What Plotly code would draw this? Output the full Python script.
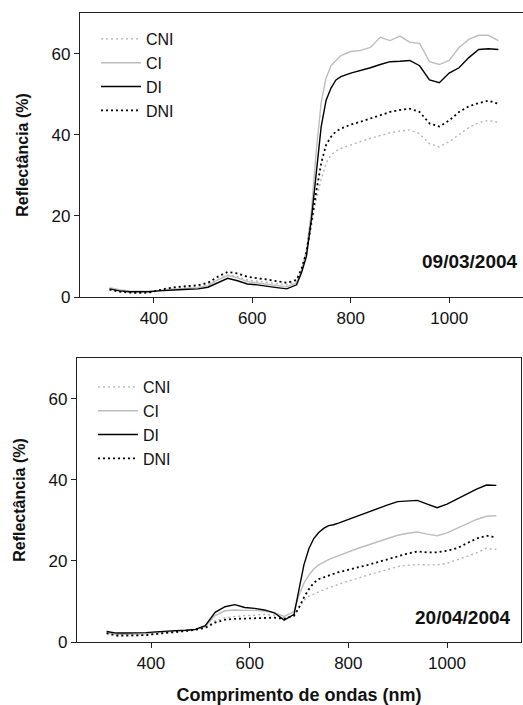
import plotly.graph_objects as go

# Wavelength grid (nm)
wavelength = [310, 330, 350, 370, 390, 410, 430, 450, 470, 490, 510, 530, 550, 570, 590,
              610, 630, 650, 670, 690, 700, 710, 720, 730, 740, 750, 760, 770, 780,
              800, 820, 840, 860, 880, 900, 920, 940, 960, 980, 1000, 1020, 1040, 1060, 1080, 1100]

# Panel 1: 09/03/2004
cni_1 = [2.0, 1.5, 1.2, 1.1, 1.2, 1.6, 2.0, 2.2, 2.4, 2.6, 3.2, 4.3, 5.4, 5.0, 4.2,
         3.9, 3.6, 3.3, 3.0, 3.8, 6.5, 10.5, 17.5, 24.0, 29.0, 33.0, 35.0, 36.0, 36.6,
         37.5, 38.3, 39.1, 39.8, 40.5, 40.9, 41.2, 40.2, 37.8, 37.0, 38.3, 40.0, 41.8, 43.0, 43.5, 43.0]
ci_1 = [2.3, 1.8, 1.5, 1.4, 1.4, 1.6, 1.9, 2.0, 2.1, 2.3, 2.8, 4.2, 5.3, 4.7, 3.8,
        3.5, 3.1, 2.8, 2.5, 3.5, 6.5, 11.5, 21.0, 36.0, 48.0, 54.0, 57.0, 58.3, 59.5,
        60.5, 60.8, 61.5, 64.0, 63.2, 64.3, 62.8, 62.5, 58.0, 57.3, 58.3, 61.5, 63.5, 64.5, 64.5, 63.2]
di_1 = [2.0, 1.5, 1.3, 1.3, 1.3, 1.5, 1.7, 1.8, 1.9, 2.0, 2.4, 3.6, 4.6, 4.0, 3.2,
        3.0, 2.6, 2.3, 2.0, 3.0, 6.0, 10.0, 19.0, 31.0, 42.0, 48.5, 51.5, 53.5, 54.3,
        55.2, 55.8, 56.5, 57.3, 58.0, 58.1, 58.3, 57.0, 53.5, 52.8, 55.2, 56.5, 59.0, 61.0, 61.2, 61.0]
dni_1 = [1.8, 1.3, 1.1, 1.0, 1.1, 1.7, 2.2, 2.5, 2.7, 2.9, 3.5, 5.0, 6.2, 5.8, 5.0,
         4.7, 4.3, 3.9, 3.5, 4.2, 7.0, 11.0, 19.0, 26.0, 33.0, 37.5, 39.5, 40.8, 41.5,
         42.5, 43.2, 44.0, 44.9, 45.6, 46.1, 46.4, 45.6, 42.8, 42.0, 43.5, 45.6, 47.0, 47.8, 48.4, 47.6]

# Panel 2: 20/04/2004
cni_2 = [2.0, 1.5, 1.5, 1.5, 1.6, 1.9, 2.2, 2.5, 2.7, 3.0, 3.6, 5.2, 6.0, 6.3, 6.5,
         6.6, 6.8, 6.6, 6.0, 6.5, 8.5, 10.3, 11.3, 11.9, 12.4, 12.9, 13.3, 13.8, 14.2,
         15.0, 15.8, 16.5, 17.2, 17.9, 18.6, 18.9, 19.1, 19.0, 19.0, 19.4, 20.2, 21.1, 22.0, 23.1, 22.8]
ci_2 = [2.2, 1.9, 1.9, 1.9, 2.0, 2.3, 2.5, 2.7, 2.8, 3.0, 3.8, 6.5, 7.7, 7.9, 7.8,
        7.8, 7.6, 7.2, 6.3, 7.5, 11.5, 14.5, 16.5, 18.0, 19.0, 19.7, 20.3, 20.8, 21.3,
        22.3, 23.1, 23.9, 24.7, 25.5, 26.3, 26.8, 27.1, 26.6, 26.2, 26.9, 28.0, 29.2, 30.2, 31.0, 31.1]
di_2 = [2.6, 2.2, 2.2, 2.2, 2.3, 2.5, 2.7, 2.8, 2.9, 3.1, 4.0, 7.3, 8.7, 9.2, 8.5,
        8.3, 7.9, 7.2, 5.4, 6.8, 13.0, 19.0, 23.0, 25.5, 27.0, 28.0, 28.7, 28.9, 29.3,
        30.2, 31.0, 32.0, 33.0, 33.8, 34.6, 34.7, 34.9, 34.0, 33.1, 34.0, 35.3, 36.6, 37.7, 38.7, 38.6]
dni_2 = [2.2, 1.6, 1.6, 1.6, 1.7, 2.0, 2.2, 2.5, 2.7, 3.0, 3.5, 4.8, 5.5, 5.7, 5.8,
         5.9, 6.0, 6.0, 5.7, 6.5, 8.5, 11.0, 13.0, 14.6, 15.5, 16.0, 16.3, 16.8, 17.2,
         17.8, 18.3, 19.0, 19.7, 20.4, 21.2, 21.8, 22.3, 22.1, 22.1, 22.5, 23.1, 24.2, 25.5, 26.2, 25.8]

series_names = ["CNI", "CI", "DI", "DNI"]
dates = ["09/03/2004", "20/04/2004"]
y_ticks = [0, 20, 40, 60]
x_ticks = [400, 600, 800, 1000]

styles = {
    "CNI": dict(color="#b4b4b4", width=1.4, dash="2px,3px"),
    "CI": dict(color="#bdbdbd", width=1.4, dash="solid"),
    "DI": dict(color="#000000", width=1.4, dash="solid"),
    "DNI": dict(color="#000000", width=1.8, dash="2px,3px"),
}

fig = go.Figure()
panels = [
    ("x", "y", "legend", [cni_1, ci_1, di_1, dni_1]),
    ("x2", "y2", "legend2", [cni_2, ci_2, di_2, dni_2]),
]
for xa, ya, lg, data in panels:
    for name, vals in zip(series_names, data):
        fig.add_trace(go.Scatter(x=wavelength, y=vals, mode="lines", name=name,
                                 line=styles[name], xaxis=xa, yaxis=ya, legend=lg))

W, H = 523, 705
ml, mr, mt, mb = 77, 0, 13, 63
pw, ph = W - ml - mr, H - mt - mb

def px_x(p):
    return (p - ml) / pw

def px_y(p):
    return (H - mb - p) / ph

font_family = "Liberation Sans, Arial, sans-serif"
axis_common = dict(showline=True, linecolor="#222", linewidth=1.2, ticks="outside",
                   ticklen=5, tickcolor="#222", showgrid=False, zeroline=False,
                   tickfont=dict(size=17, color="#111"))

fig.update_layout(
    width=W, height=H,
    margin=dict(l=ml, r=mr, t=mt, b=mb),
    paper_bgcolor="white", plot_bgcolor="white",
    font=dict(family=font_family, color="#111"),
    xaxis=dict(domain=[px_x(80), 1.0], range=[250, 1150], tickvals=x_ticks,
               anchor="y", mirror=True, **axis_common),
    yaxis=dict(domain=[px_y(297), 1.0], range=[0, 70], tickvals=y_ticks,
               anchor="x", title=dict(text="<b>Reflectância (%)</b>", font=dict(size=16), standoff=18),
               **axis_common),
    xaxis2=dict(domain=[0.0, px_x(521)], range=[250, 1150], tickvals=x_ticks,
                anchor="y2", mirror=True,
                title=dict(text="<b>Comprimento de ondas (nm)</b>", font=dict(size=18), standoff=20),
                **axis_common),
    yaxis2=dict(domain=[0.0, px_y(358)], range=[0, 70], tickvals=y_ticks,
                anchor="x2", mirror=True,
                title=dict(text="<b>Reflectância (%)</b>", font=dict(size=16), standoff=18),
                **axis_common),
    legend=dict(x=px_x(96), y=px_y(22), xanchor="left", yanchor="top",
                bgcolor="rgba(0,0,0,0)", font=dict(size=16), itemwidth=40),
    legend2=dict(x=px_x(93), y=px_y(370), xanchor="left", yanchor="top",
                 bgcolor="rgba(0,0,0,0)", font=dict(size=16), itemwidth=40),
    showlegend=True,
    annotations=[
        dict(text="<b>" + dates[0] + "</b>", xref="paper", yref="paper",
             x=px_x(520), y=px_y(261), xanchor="right", yanchor="middle",
             showarrow=False, font=dict(size=19, color="#111")),
        dict(text="<b>" + dates[1] + "</b>", xref="paper", yref="paper",
             x=px_x(513), y=px_y(617), xanchor="right", yanchor="middle",
             showarrow=False, font=dict(size=19, color="#111")),
    ],
)

fig.write_html(
    "out.html",
    config={"displayModeBar": False},
    post_script="document.body.style.margin='0';document.body.style.overflow='hidden';",
)
